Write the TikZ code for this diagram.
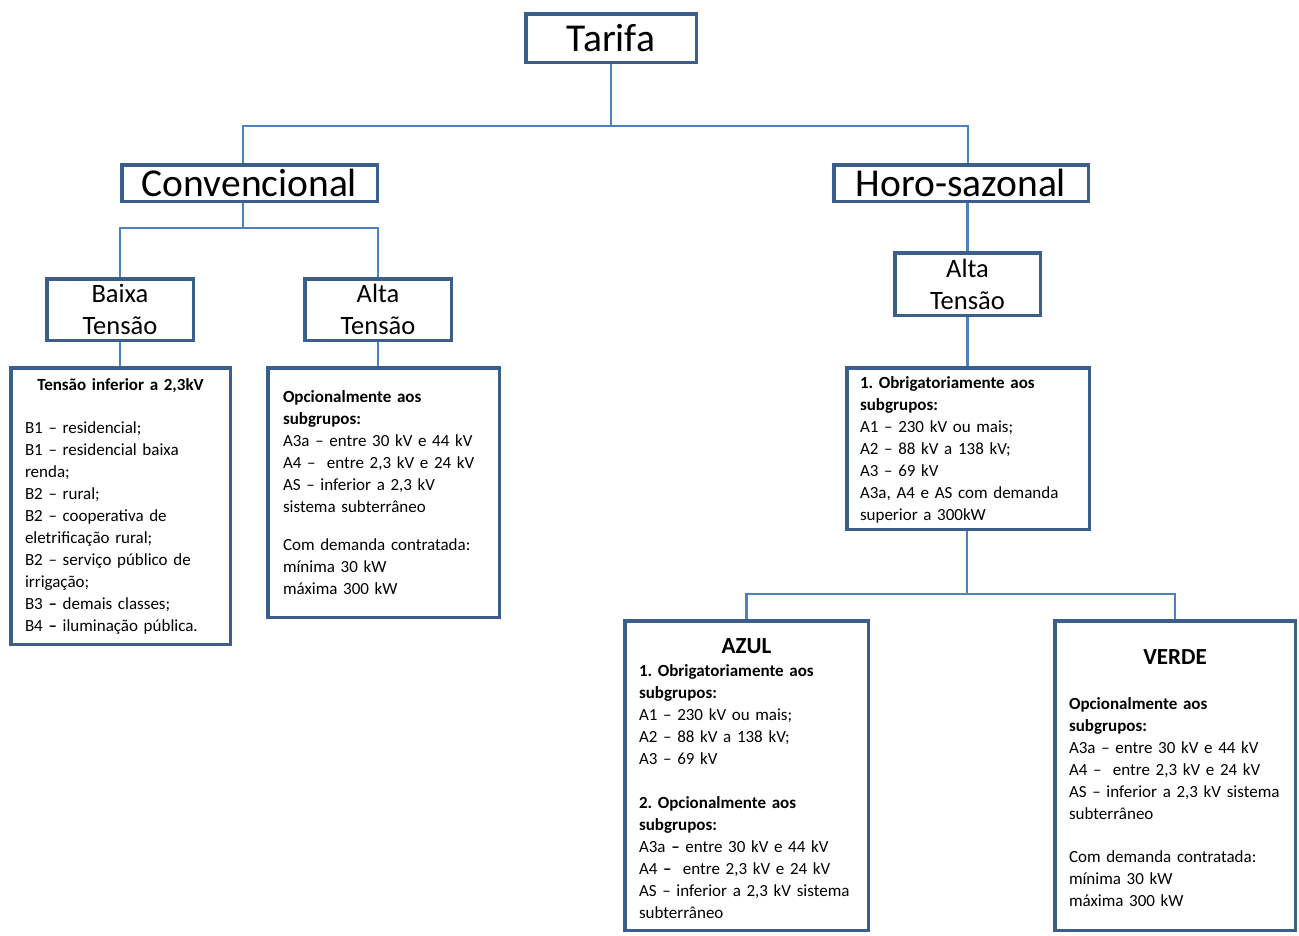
\documentclass[tikz,border=0pt]{standalone}
\usepackage{fontspec}
\setmainfont{Carlito}
\frenchspacing
\definecolor{boxblue}{HTML}{3B5E8C}
\definecolor{lineblue}{HTML}{4F81BD}
\tikzset{
  box/.style={draw=boxblue, line width=3.5pt, fill=white, inner sep=0pt},
  bigbox/.style={box, font=\fontsize{39.5}{40}\selectfont},
  midbox/.style={box, align=center, font=\fontsize{26.5}{32}\selectfont},
  txtbox/.style={box, anchor=text, align=left, inner ysep=0pt, font=\fontsize{17}{22}\selectfont},
  conn/.style={draw=lineblue, line width=2.2pt},
}
\begin{document}
\begin{tikzpicture}[x=1pt,y=-1pt]
    \fill[white] (0,0) rectangle (1299,935);
    \useasboundingbox (0,0) rectangle (1299,935);
    % top levels
    \node[bigbox, minimum width=170.5pt, minimum height=48.5pt] (tarifa) at (611,38) {Tarifa};
    \node[bigbox, minimum width=255.5pt, minimum height=36.5pt] (conv) at (249.5,183) {Convencional};
    \node[bigbox, minimum width=254.5pt, minimum height=36.5pt] (horo) at (961,183) {Horo-sazonal};
    \node[midbox, minimum width=146.5pt, minimum height=61.5pt] (baixa) at (120,309.5) {Baixa\\Tensão};
    \node[midbox, minimum width=146.5pt, minimum height=61.5pt] (altaC) at (378,309.5) {Alta\\Tensão};
    \node[midbox, minimum width=145.5pt, minimum height=62.5pt] (altaH) at (967.5,284) {Alta\\Tensão};
    % text boxes
    \node[txtbox, inner xsep=14.25pt, text width=191pt, text height=22.25pt, text depth=254.25pt] (inferior) at (25,390) {%
        \makebox[191pt]{\bfseries Tensão inferior a 2,3kV}\\[21pt]
        B1 – residencial;\\
        B1 – residencial baixa\\
        renda;\\
        B2 – rural;\\
        B2 – cooperativa de\\
        eletrificação rural;\\
        B2 – serviço público de\\
        irrigação;\\
        B3 {\bfseries –} demais classes;\\
        B4 {\bfseries –} iluminação pública.};
    \node[txtbox, inner xsep=15.25pt, text width=201pt, text height=34.25pt, text depth=215.25pt] (opcC) at (283,402) {%
        \textbf{Opcionalmente aos}\\
        \textbf{subgrupos:}\\
        A3a – entre 30 kV e 44 kV\\
        A4 – \ entre 2,3 kV e 24 kV\\
        AS – inferior a 2,3 kV\\
        sistema subterrâneo\\[16pt]
        Com demanda contratada:\\
        mínima 30 kW\\
        máxima 300 kW};
    \node[txtbox, inner xsep=13.25pt, text width=216pt, text height=20.25pt, text depth=141.25pt] (obrig) at (860,388) {%
        \textbf{1. Obrigatoriamente aos}\\
        \textbf{subgrupos:}\\
        A1 – 230 kV ou mais;\\
        A2 – 88 kV a 138 kV;\\
        A3 – 69 kV\\
        A3a, A4 e AS com demanda\\
        superior a 300kW};
    \node[txtbox, inner xsep=14.25pt, text width=215pt, text height=32.25pt, text depth=277.25pt] (azul) at (639,653) {%
        \makebox[215pt]{\fontsize{23}{22}\selectfont\bfseries AZUL}\\[1pt]
        \textbf{1. Obrigatoriamente aos}\\
        \textbf{subgrupos:}\\
        A1 – 230 kV ou mais;\\
        A2 – 88 kV a 138 kV;\\
        A3 – 69 kV\\[22pt]
        \textbf{2. Opcionalmente aos}\\
        \textbf{subgrupos:}\\
        A3a {\bfseries –} entre 30 kV e 44 kV\\
        A4 {\bfseries –} \ entre 2,3 kV e 24 kV\\
        AS – inferior a 2,3 kV sistema\\
        subterrâneo};
    \node[txtbox, inner xsep=14.25pt, text width=212pt, text height=43.25pt, text depth=266.25pt] (verde) at (1069,664) {%
        \makebox[212pt]{\fontsize{23}{22}\selectfont\bfseries VERDE}\\[23pt]
        \textbf{Opcionalmente aos}\\
        \textbf{subgrupos:}\\
        A3a – entre 30 kV e 44 kV\\
        A4 – \ entre 2,3 kV e 24 kV\\
        AS – inferior a 2,3 kV sistema\\
        subterrâneo\\[21pt]
        Com demanda contratada:\\
        mínima 30 kW\\
        máxima 300 kW};
    % connectors
    \coordinate (j1) at (611,126);
    \coordinate (j2) at (243,228);
    \coordinate (j3) at (967,594);
    \draw[conn] (tarifa.south) -- (j1);
    \draw[conn] ([xshift=-6.5pt]conv.north) |- (j1) -| ([xshift=7pt]horo.north);
    \draw[conn] ([xshift=-6.5pt]conv.south) -- (j2);
    \draw[conn] (baixa.north) |- (j2) -| (altaC.north);
    \draw[conn] (altaH.north) -- (altaH.north |- horo.south);
    \draw[conn] (baixa.south) -- (baixa.south |- inferior.north);
    \draw[conn] (altaC.south) -- (altaC.south |- opcC.north);
    \draw[conn] (altaH.south) -- (altaH.south |- obrig.north);
    \draw[conn] (obrig.south -| j3) -- (j3);
    \draw[conn] (azul.north) |- (j3) -| (verde.north);
\end{tikzpicture}
\end{document}
